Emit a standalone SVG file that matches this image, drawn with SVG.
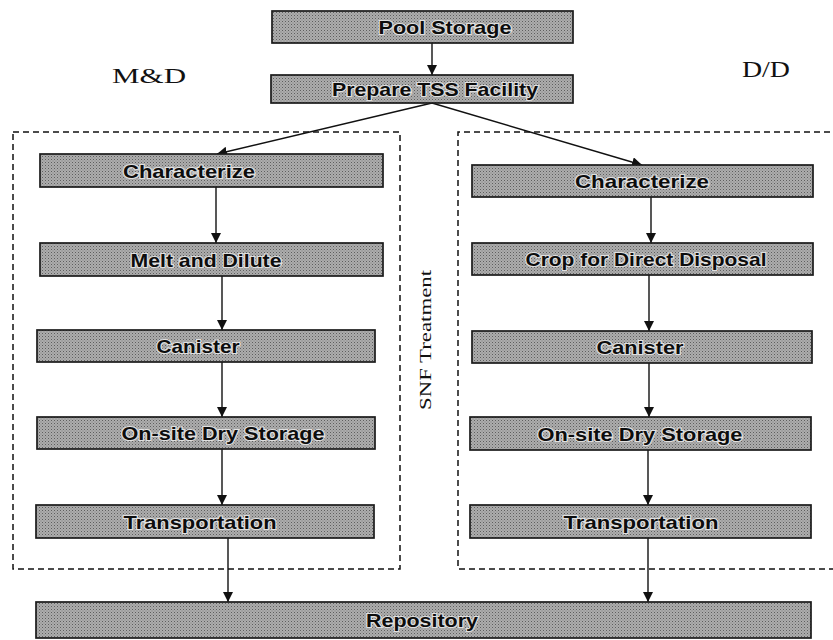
<svg xmlns="http://www.w3.org/2000/svg" width="833" height="640" viewBox="0 0 833 640">
<defs>
<marker id="ah" markerWidth="10" markerHeight="12" refX="10" refY="5" orient="auto" markerUnits="userSpaceOnUse">
<path d="M0,0 L10,5 L0,10 Z" fill="#111"/>
</marker>
<pattern id="ht" width="3" height="3" patternUnits="userSpaceOnUse">
<rect width="3" height="3" fill="#adadad"/>
<rect width="1" height="1" fill="#5e5e5e"/>
<rect x="1.5" y="1.5" width="1" height="1" fill="#7e7e7e"/>
</pattern>
</defs>
<style>
.box{fill:url(#ht);stroke:#1a1a1a;stroke-width:1.7}
.lbl{font-family:"Liberation Sans",Arial,sans-serif;font-weight:bold;font-size:19px;fill:#0d0d0d;stroke:#e0e0e0;stroke-width:2.2;paint-order:stroke;text-anchor:middle}
.ser{font-family:"Liberation Serif","Times New Roman",serif;fill:#111}
.dash{fill:none;stroke:#111;stroke-width:1.5;stroke-dasharray:6 4}
.con{fill:none;stroke:#111;stroke-width:1.4;marker-end:url(#ah)}
</style>
<rect width="833" height="640" fill="#fff"/>

<g id="groups">
<rect class="dash" x="13" y="132" width="387" height="437"/>
<path class="dash" d="M840 132 H458 V569 H840"/>
</g>

<g id="titles">
<text class="ser" x="112" y="83" font-size="22" textLength="74" lengthAdjust="spacingAndGlyphs">M&amp;D</text>
<text class="ser" x="742" y="77" font-size="23" textLength="48" lengthAdjust="spacingAndGlyphs">D/D</text>
<text class="ser" transform="translate(431,340) rotate(-90)" x="0" y="0" font-size="16" text-anchor="middle" textLength="140" lengthAdjust="spacingAndGlyphs">SNF Treatment</text>
</g>

<g id="connectors">
<line class="con" x1="432" y1="43" x2="432" y2="75"/>
<line class="con" x1="432" y1="103" x2="217" y2="154"/>
<line class="con" x1="432" y1="103" x2="642" y2="165"/>
<line class="con" x1="216" y1="187" x2="216" y2="243"/>
<line class="con" x1="222" y1="276" x2="222" y2="330"/>
<line class="con" x1="222" y1="362" x2="222" y2="417"/>
<line class="con" x1="222" y1="449" x2="222" y2="505"/>
<line class="con" x1="228" y1="538" x2="228" y2="602"/>
<line class="con" x1="651" y1="197" x2="651" y2="243"/>
<line class="con" x1="649" y1="275" x2="649" y2="331"/>
<line class="con" x1="649" y1="363" x2="649" y2="417"/>
<line class="con" x1="648" y1="450" x2="648" y2="505"/>
<line class="con" x1="648" y1="538" x2="648" y2="602"/>
</g>

<g id="pool-storage"><rect class="box" x="272" y="11" width="301" height="32"/><text class="lbl" x="445" y="34" textLength="133" lengthAdjust="spacingAndGlyphs">Pool Storage</text></g>
<g id="prepare-tss"><rect class="box" x="271" y="75" width="302" height="28"/><text class="lbl" x="435" y="96" textLength="206" lengthAdjust="spacingAndGlyphs">Prepare TSS Facility</text></g>

<g id="md-characterize"><rect class="box" x="40" y="154" width="343" height="33"/><text class="lbl" x="189" y="178" textLength="132" lengthAdjust="spacingAndGlyphs">Characterize</text></g>
<g id="md-melt-dilute"><rect class="box" x="40" y="243" width="343" height="33"/><text class="lbl" x="206" y="267" textLength="151" lengthAdjust="spacingAndGlyphs">Melt and Dilute</text></g>
<g id="md-canister"><rect class="box" x="37" y="330" width="338" height="32"/><text class="lbl" x="198" y="353" textLength="83" lengthAdjust="spacingAndGlyphs">Canister</text></g>
<g id="md-onsite"><rect class="box" x="37" y="417" width="338" height="32"/><text class="lbl" x="223" y="440" textLength="203" lengthAdjust="spacingAndGlyphs">On-site Dry Storage</text></g>
<g id="md-transport"><rect class="box" x="36" y="505" width="338" height="33"/><text class="lbl" x="200" y="529" textLength="153" lengthAdjust="spacingAndGlyphs">Transportation</text></g>

<g id="dd-characterize"><rect class="box" x="472" y="165" width="341" height="32"/><text class="lbl" x="642" y="188" textLength="134" lengthAdjust="spacingAndGlyphs">Characterize</text></g>
<g id="dd-crop"><rect class="box" x="472" y="243" width="341" height="32"/><text class="lbl" x="646" y="266" textLength="241" lengthAdjust="spacingAndGlyphs">Crop for Direct Disposal</text></g>
<g id="dd-canister"><rect class="box" x="472" y="331" width="340" height="32"/><text class="lbl" x="640" y="354" textLength="87" lengthAdjust="spacingAndGlyphs">Canister</text></g>
<g id="dd-onsite"><rect class="box" x="470" y="417" width="341" height="33"/><text class="lbl" x="640" y="441" textLength="205" lengthAdjust="spacingAndGlyphs">On-site Dry Storage</text></g>
<g id="dd-transport"><rect class="box" x="470" y="505" width="341" height="33"/><text class="lbl" x="641" y="529" textLength="155" lengthAdjust="spacingAndGlyphs">Transportation</text></g>

<g id="repository"><rect class="box" x="36" y="602" width="775" height="36"/><text class="lbl" x="422" y="627" textLength="112" lengthAdjust="spacingAndGlyphs">Repository</text></g>
</svg>
